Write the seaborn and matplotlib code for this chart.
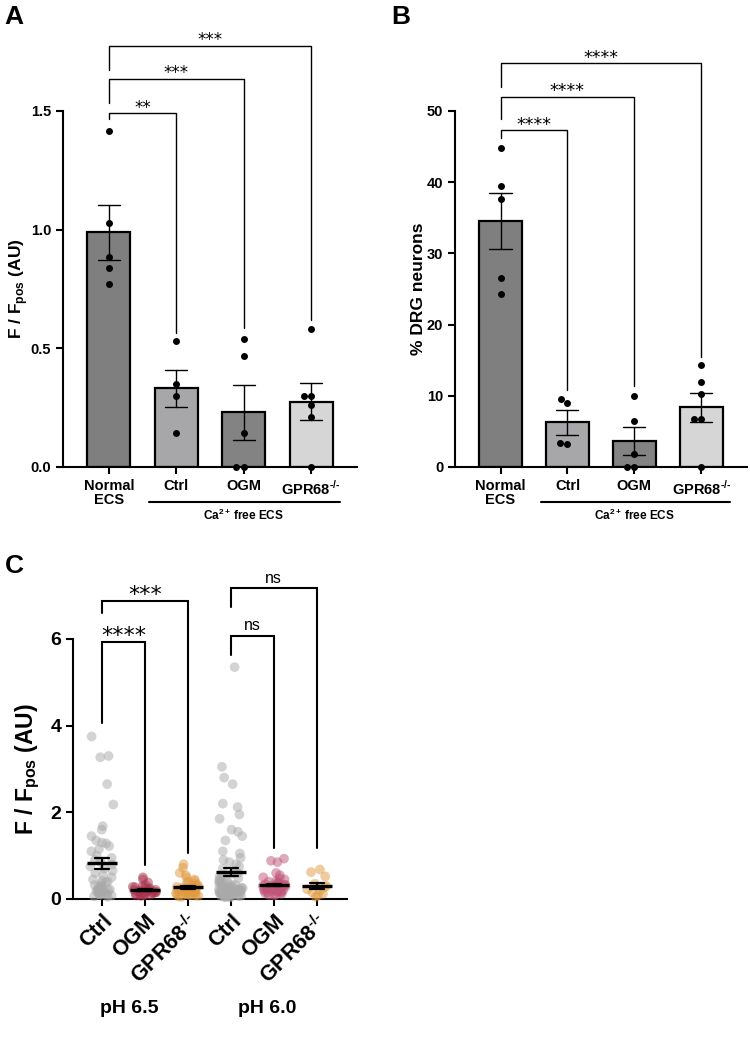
import numpy as np
import pandas as pd
import seaborn as sns
import matplotlib.pyplot as plt
from matplotlib.transforms import blended_transform_factory

# ---- panel A / B : bars with individual animals ----
groups_ab = ["Normal ECS", "Ctrl", "OGM", "GPR68"]
ticks_ab = ["Normal\nECS", "Ctrl", "OGM", "GPR68$^{\u2010/\u2010}$"]
bar_colors = ["#7f7f7f", "#a6a6aa", "#838383", "#d6d6d6"]

a_normal = [1.416, 1.03, 0.885, 0.84, 0.77]
a_ctrl = [0.53, 0.35, 0.30, 0.143]
a_ogm = [0.54, 0.468, 0.143, 0.0, 0.0]
a_gpr68 = [0.582, 0.30, 0.30, 0.26, 0.21, 0.0]

b_normal = [44.8, 39.5, 37.6, 26.5, 24.3]
b_ctrl = [9.0, 9.5, 3.2, 3.3]
b_ogm = [10.0, 6.4, 1.8, 0.0, 0.0]
b_gpr68 = [14.3, 12.0, 10.3, 6.8, 6.8, 0.0]

# ---- panel C : single cells ----
groups_c = ["Ctrl 6.5", "OGM 6.5", "GPR68 6.5", "Ctrl 6.0", "OGM 6.0", "GPR68 6.0"]
ticks_c = ["Ctrl", "OGM", "GPR68$^{\u2010/\u2010}$", "Ctrl", "OGM", "GPR68$^{\u2010/\u2010}$"]
colors_c = ["#a9a9a9", "#a8324e", "#e09a40", "#a9a9a9", "#c0557a", "#e09a40"]

c_ctrl65 = [3.75, 3.3, 3.27, 2.65, 2.18, 1.68, 1.6, 1.45, 1.35, 1.3,
            1.28, 1.22, 1.15, 1.1, 1.0, 0.95, 0.9, 0.85, 0.8, 0.75,
            0.7, 0.65, 0.6, 0.55, 0.5, 0.45, 0.42, 0.4, 0.38, 0.35,
            0.32, 0.3, 0.28, 0.25, 0.23, 0.22, 0.2, 0.2, 0.18, 0.18,
            0.15, 0.15, 0.14, 0.12, 0.1, 0.1, 0.1, 0.08, 0.06, 0.05]
c_ogm65 = [0.5, 0.45, 0.38, 0.32, 0.3, 0.28, 0.27, 0.25, 0.24, 0.22,
           0.21, 0.2, 0.2, 0.19, 0.18, 0.17, 0.16, 0.15, 0.15, 0.14,
           0.13, 0.12, 0.11, 0.1, 0.1, 0.09, 0.08, 0.07]
c_gpr65 = [0.8, 0.72, 0.6, 0.55, 0.5, 0.45, 0.42, 0.4, 0.38, 0.35,
           0.33, 0.32, 0.3, 0.3, 0.28, 0.27, 0.26, 0.25, 0.24, 0.23,
           0.22, 0.21, 0.2, 0.2, 0.19, 0.18, 0.17, 0.16, 0.15, 0.14,
           0.13, 0.12, 0.11, 0.1, 0.1, 0.09, 0.08, 0.07, 0.06, 0.05]
c_ctrl60 = [5.35, 3.05, 2.8, 2.65, 2.2, 2.12, 1.95, 1.85, 1.6, 1.55,
            1.45, 1.35, 1.1, 1.05, 0.95, 0.9, 0.85, 0.8, 0.75, 0.7,
            0.65, 0.6, 0.58, 0.55, 0.52, 0.5, 0.48, 0.45, 0.42, 0.4,
            0.38, 0.36, 0.35, 0.33, 0.32, 0.3, 0.3, 0.28, 0.27, 0.26,
            0.25, 0.24, 0.23, 0.22, 0.21, 0.2, 0.2, 0.19, 0.18, 0.18,
            0.17, 0.16, 0.16, 0.15, 0.15, 0.14, 0.14, 0.13, 0.13, 0.12,
            0.12, 0.11, 0.11, 0.1, 0.1, 0.1, 0.09, 0.09, 0.08, 0.08,
            0.07, 0.07, 0.06, 0.06, 0.05, 0.05, 0.04, 0.04]
c_ogm60 = [0.93, 0.88, 0.85, 0.6, 0.55, 0.5, 0.48, 0.45, 0.42, 0.4,
           0.38, 0.37, 0.35, 0.34, 0.33, 0.32, 0.31, 0.3, 0.3, 0.29,
           0.28, 0.27, 0.26, 0.25, 0.25, 0.24, 0.23, 0.22, 0.21, 0.2,
           0.2, 0.19, 0.18, 0.17, 0.16, 0.15, 0.14, 0.13, 0.12, 0.1,
           0.09, 0.08]
c_gpr60 = [0.68, 0.62, 0.52, 0.35, 0.3, 0.28, 0.22, 0.2, 0.15, 0.12, 0.08, 0.05]

# comparisons: (i, j, bracket height, left leg end, right leg end, label)
comp_a = [(0, 1, 1.49, 1.466, 0.565, "**"), (0, 2, 1.635, 1.533, 0.586, "***"),
          (0, 3, 1.774, 1.673, 0.62, "***")]
comp_b = [(0, 1, 47.3, 46.2, 10.8, "****"), (0, 2, 52.0, 48.9, 11.4, "****"),
          (0, 3, 56.7, 53.4, 15.4, "****")]
comp_c = [(0, 1, 5.92, 4.05, 0.78, "****"), (0, 2, 6.87, 6.6, 1.05, "***"),
          (3, 4, 6.08, 5.64, 1.17, "ns"), (3, 5, 7.17, 6.73, 1.17, "ns")]

sns.set_style("ticks")
plt.rcParams["font.family"] = ["Liberation Sans", "DejaVu Sans"]
plt.rcParams["font.weight"] = "bold"
plt.rcParams["mathtext.fontset"] = "custom"
plt.rcParams["mathtext.rm"] = "Liberation Sans"
plt.rcParams["mathtext.bf"] = "Liberation Sans:bold"
plt.rcParams["axes.linewidth"] = 1.5
for key in ["text.color", "axes.labelcolor", "axes.edgecolor", "xtick.color", "ytick.color"]:
    plt.rcParams[key] = "black"


def long_df(groups, values):
    return pd.DataFrame({"group": np.repeat(groups, [len(v) for v in values]),
                         "val": np.concatenate(values)})


def bracket(ax, x1, x2, h, l_end, r_end, label, lw, fs, off, fam, wt):
    ax.plot([x1, x1, x2, x2], [l_end, h, h, r_end], color="k", lw=lw,
            clip_on=False, solid_joinstyle="miter")
    ax.annotate(label, ((x1 + x2) / 2, h), xytext=(0, off), textcoords="offset points",
                ha="center", va="baseline", fontsize=fs, family=fam, weight=wt,
                annotation_clip=False)


def style_axis(ax, fs):
    sns.despine(ax=ax)
    ax.tick_params(axis="both", length=5, width=1.5, labelsize=fs)
    for lab in ax.get_xticklabels() + ax.get_yticklabels():
        lab.set_fontweight("bold")


def bar_panel(ax, values, ylim, yticks, fmt, ylabel, comps, star_fs):
    df = long_df(groups_ab, values)
    sns.barplot(data=df, x="group", y="val", hue="group", order=groups_ab,
                palette=dict(zip(groups_ab, bar_colors)), errorbar="se",
                capsize=0.33, err_kws={"color": "k", "linewidth": 1},
                edgecolor="k", linewidth=1.6, width=0.64, legend=False, ax=ax)
    sns.swarmplot(data=df, x="group", y="val", order=groups_ab, color="k",
                  size=5, ax=ax)
    for coll in ax.collections:
        coll.set_clip_on(False)
    ax.set_ylim(*ylim)
    ax.set_yticks(yticks)
    ax.set_yticklabels([fmt.format(t) for t in yticks])
    ax.set_xlim(-0.68, 3.68)
    ax.set_xticks(range(4))
    ax.set_xticklabels(ticks_ab, linespacing=1.0)
    ax.set_xlabel("")
    ax.set_ylabel(ylabel, fontsize=12.5, fontweight="bold")
    style_axis(ax, 10.5)
    for c in comps:
        bracket(ax, *c, lw=1.0, fs=star_fs, off=0.5, fam="DejaVu Sans", wt="normal")
    trans = blended_transform_factory(ax.transData, ax.transAxes)
    ax.plot([0.6, 3.43], [-0.098, -0.098], color="k", lw=1.5, transform=trans, clip_on=False)
    ax.text(2.0, -0.135, r"Ca$^{\mathbf{2+}}\,$free ECS", transform=trans, ha="center",
            va="center", fontsize=8.5, fontweight="bold")


fig = plt.figure(figsize=(7.5, 10.47), dpi=100)
ax_a = fig.add_axes([0.084, 0.554, 0.392, 0.340])
ax_b = fig.add_axes([0.6067, 0.554, 0.389, 0.340])
ax_c = fig.add_axes([0.0973, 0.1414, 0.3653, 0.2483])

bar_panel(ax_a, [a_normal, a_ctrl, a_ogm, a_gpr68], (0, 1.5), [0, 0.5, 1.0, 1.5],
          "{:.1f}", r"F / F$_\mathbf{pos}$ (AU)", comp_a, 12)
ax_a.yaxis.set_label_coords(-0.112, 0.5)
bar_panel(ax_b, [b_normal, b_ctrl, b_ogm, b_gpr68], (0, 50), [0, 10, 20, 30, 40, 50],
          "{:.0f}", "% DRG neurons", comp_b, 12.5)
ax_b.yaxis.set_label_coords(-0.10, 0.5)

# ---- panel C ----
df_c = long_df(groups_c, [c_ctrl65, c_ogm65, c_gpr65, c_ctrl60, c_ogm60, c_gpr60])
np.random.seed(7)
sns.stripplot(data=df_c, x="group", y="val", hue="group", order=groups_c,
              palette=dict(zip(groups_c, colors_c)), jitter=0.28, size=7,
              alpha=0.5, linewidth=0, legend=False, ax=ax_c)
sns.pointplot(data=df_c, x="group", y="val", order=groups_c, errorbar="se",
              color="k", marker="_", markersize=21, markeredgewidth=2.4,
              markeredgecolor="k", linestyle="none", capsize=0.33,
              err_kws={"linewidth": 1.6, "color": "k"}, ax=ax_c)
for coll in ax_c.collections:
    coll.set_clip_on(False)
for ln in ax_c.lines:
    ln.set_zorder(5)
ax_c.set_ylim(0, 6)
ax_c.set_yticks([0, 2, 4, 6])
ax_c.set_xlim(-0.67, 5.7)
ax_c.set_xticks(range(6))
ax_c.set_xticklabels(ticks_c, rotation=45, ha="right", rotation_mode="anchor")
ax_c.set_xlabel("")
ax_c.set_ylabel(r"F / F$_\mathbf{pos}$ (AU)", fontsize=16.5, fontweight="bold")
ax_c.yaxis.set_label_coords(-0.113, 0.5)
style_axis(ax_c, 14)
ax_c.tick_params(axis="x", labelsize=15.5)
for c in comp_c:
    if c[5] == "ns":
        bracket(ax_c, *c, lw=1.5, fs=11.5, off=4, fam="Liberation Sans", wt="normal")
    else:
        bracket(ax_c, *c, lw=1.5, fs=16, off=0, fam="DejaVu Sans", wt="normal")
trans_c = blended_transform_factory(ax_c.transData, ax_c.transAxes)
ax_c.text(0.65, -0.42, "pH 6.5", transform=trans_c, ha="center", va="center",
          fontsize=14, fontweight="bold")
ax_c.text(3.85, -0.42, "pH 6.0", transform=trans_c, ha="center", va="center",
          fontsize=14, fontweight="bold")

for lbl, x, y in [("A", 0.006, 1 - 17 / 1047), ("B", 0.522, 1 - 17 / 1047),
                  ("C", 0.006, 1 - 566 / 1047)]:
    fig.text(x, y, lbl, fontsize=19, fontweight="bold", va="center", ha="left")

fig.savefig("out.png", dpi=100)
